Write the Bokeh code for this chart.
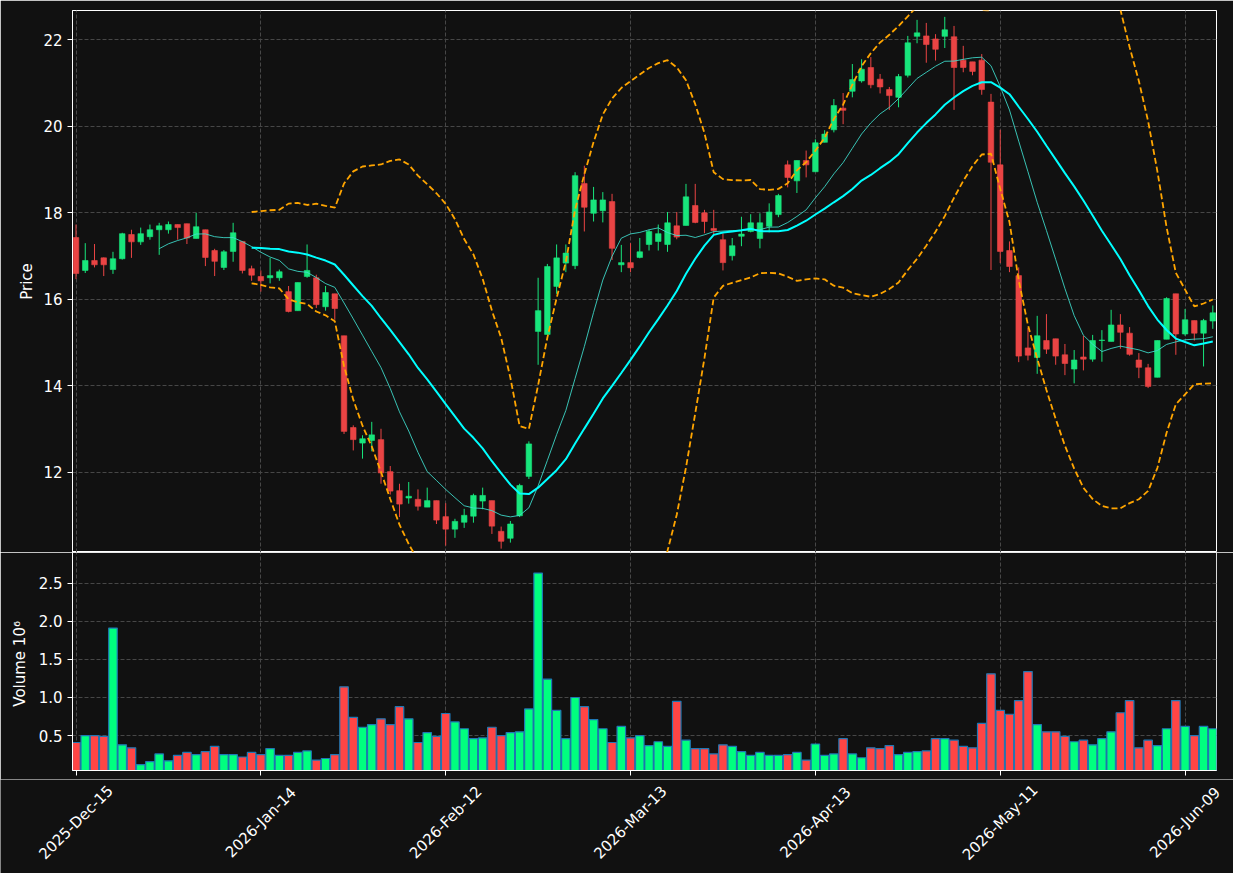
import math
import numpy as np
import pandas as pd
from bokeh.plotting import figure
from bokeh.models import Range1d, FixedTicker, ColumnDataSource, NumeralTickFormatter
from bokeh.core.properties import value
from bokeh.embed import file_html
from bokeh.resources import INLINE

# ---- data ----
opens = [17.43, 16.67, 16.90, 16.96, 16.69, 16.94, 17.50, 17.33, 17.45, 17.61,
         17.61, 17.73, 17.75, 17.41, 17.61, 17.13, 16.74, 17.11, 17.34, 16.71,
         16.53, 16.50, 16.50, 16.18, 15.74, 16.53, 16.50, 15.83, 16.13, 15.16,
         13.04, 12.68, 12.74, 12.76, 12.02, 11.58, 11.41, 11.38, 11.20, 11.35,
         10.98, 10.69, 10.85, 10.99, 11.34, 11.35, 10.64, 10.48, 11.00, 11.91,
         15.26, 15.19, 16.30, 16.84, 16.78, 18.68, 17.99, 18.05, 18.26, 16.80,
         16.85, 16.97, 17.27, 17.34, 17.27, 17.70, 17.71, 18.17, 18.00, 17.64,
         17.38, 17.01, 17.46, 17.57, 17.41, 17.69, 17.96, 19.11, 18.74, 19.21,
         18.95, 19.63, 19.92, 20.42, 20.81, 21.05, 21.36, 21.09, 20.85, 20.67,
         21.18, 22.08, 22.09, 22.02, 22.08, 22.07, 21.53, 21.49, 21.53, 20.56,
         19.11, 17.13, 16.55, 14.88, 14.66, 15.05, 15.09, 14.72, 14.39, 14.67,
         14.62, 15.05, 15.03, 15.41, 15.22, 14.60, 14.42, 14.20, 15.08, 16.13,
         15.20, 15.51, 15.22, 15.50]
highs = [17.73, 17.30, 17.28, 16.97, 17.10, 17.54, 17.61, 17.66, 17.73, 17.77,
         17.80, 17.73, 17.75, 18.00, 17.61, 17.17, 17.14, 17.77, 17.34, 16.78,
         16.67, 16.96, 16.69, 16.31, 16.39, 17.27, 16.57, 16.31, 16.13, 15.16,
         13.09, 12.86, 13.17, 13.01, 12.15, 11.74, 11.78, 11.61, 11.65, 11.35,
         11.29, 10.93, 11.16, 11.51, 11.65, 11.35, 10.75, 10.88, 11.74, 12.72,
         16.50, 16.82, 17.27, 17.27, 18.94, 19.09, 18.60, 18.48, 18.44, 17.26,
         17.30, 17.42, 17.61, 17.73, 18.02, 18.02, 18.67, 18.67, 18.07, 18.07,
         17.53, 17.42, 17.91, 17.97, 17.99, 18.22, 18.44, 19.21, 19.21, 19.44,
         19.70, 19.91, 20.63, 20.77, 21.44, 21.55, 21.60, 21.21, 20.91, 21.21,
         22.09, 22.46, 22.39, 22.13, 22.53, 22.32, 21.86, 21.49, 21.67, 20.75,
         19.92, 17.34, 16.74, 15.34, 15.62, 15.66, 15.09, 14.97, 14.83, 15.16,
         15.18, 15.29, 15.76, 15.66, 15.36, 14.76, 14.51, 15.05, 16.05, 16.13,
         15.78, 15.51, 15.55, 15.86]
lows = [16.47, 16.61, 16.74, 16.54, 16.59, 16.92, 16.96, 17.26, 17.38, 17.03,
        17.52, 17.38, 17.28, 17.41, 16.77, 16.54, 16.68, 16.87, 16.60, 16.43,
        16.18, 16.37, 16.43, 15.70, 15.74, 16.50, 15.80, 15.74, 15.53, 12.89,
        12.51, 12.32, 12.49, 11.74, 11.49, 10.97, 11.28, 11.12, 11.20, 10.81,
        10.31, 10.49, 10.72, 10.84, 11.15, 10.58, 10.24, 10.38, 10.97, 11.85,
        14.49, 15.19, 16.13, 16.63, 16.70, 17.57, 17.80, 17.78, 16.91, 16.63,
        16.63, 16.95, 17.13, 17.13, 17.10, 17.39, 17.71, 17.76, 17.53, 17.51,
        16.67, 16.90, 17.23, 17.55, 17.18, 17.55, 17.90, 18.59, 18.46, 18.82,
        18.95, 19.63, 19.86, 20.05, 20.67, 21.01, 20.88, 20.76, 20.38, 20.44,
        21.13, 21.92, 21.47, 21.52, 21.81, 20.38, 21.25, 21.18, 20.73, 16.68,
        16.84, 16.63, 14.55, 14.59, 14.28, 14.74, 14.49, 14.25, 14.06, 14.36,
        14.56, 14.56, 15.03, 14.86, 14.70, 14.18, 13.95, 14.20, 15.08, 14.72,
        15.16, 15.05, 14.45, 15.32]
closes = [16.60, 16.90, 16.80, 16.80, 16.94, 17.52, 17.33, 17.52, 17.61, 17.70,
          17.73, 17.66, 17.42, 17.68, 16.97, 16.88, 17.10, 17.54, 16.67, 16.56,
          16.43, 16.55, 16.64, 15.72, 16.39, 16.67, 15.88, 16.16, 15.79, 12.95,
          12.76, 12.78, 12.87, 11.99, 11.57, 11.27, 11.45, 11.22, 11.35, 10.90,
          10.69, 10.87, 11.01, 11.47, 11.47, 10.76, 10.41, 10.81, 11.70, 12.66,
          15.74, 16.76, 16.96, 17.07, 18.86, 18.13, 18.30, 18.30, 17.18, 16.85,
          16.73, 17.10, 17.57, 17.52, 17.77, 17.44, 18.37, 17.78, 17.80, 17.59,
          16.85, 17.24, 17.51, 17.77, 17.77, 18.02, 18.40, 18.82, 19.21, 19.11,
          19.62, 19.82, 20.48, 20.37, 21.08, 21.32, 20.96, 20.91, 20.71, 21.15,
          21.93, 22.16, 21.89, 21.78, 22.23, 21.36, 21.36, 21.27, 20.85, 19.17,
          17.11, 16.76, 14.69, 14.71, 15.16, 14.85, 14.69, 14.52, 14.60, 14.62,
          15.05, 15.06, 15.41, 15.24, 14.73, 14.43, 13.99, 15.05, 16.02, 15.20,
          15.53, 15.22, 15.51, 15.69]
volume_m = [0.41, 0.50, 0.50, 0.49, 1.91, 0.38, 0.34, 0.12, 0.16, 0.26,
            0.17, 0.24, 0.28, 0.25, 0.29, 0.36, 0.25, 0.25, 0.22, 0.28,
            0.25, 0.33, 0.24, 0.24, 0.28, 0.30, 0.18, 0.20, 0.25, 1.14,
            0.74, 0.61, 0.645, 0.72, 0.645, 0.88, 0.72, 0.41, 0.54, 0.49,
            0.79, 0.68, 0.59, 0.46, 0.47, 0.61, 0.50, 0.54, 0.55, 0.85,
            2.63, 1.24, 0.83, 0.46, 1.00, 0.88, 0.71, 0.59, 0.41, 0.62,
            0.47, 0.50, 0.37, 0.42, 0.36, 0.95, 0.44, 0.33, 0.33, 0.26,
            0.38, 0.36, 0.29, 0.24, 0.28, 0.24, 0.24, 0.25, 0.28, 0.18,
            0.39, 0.24, 0.26, 0.46, 0.26, 0.21, 0.34, 0.33, 0.37, 0.25,
            0.28, 0.29, 0.30, 0.46, 0.46, 0.44, 0.36, 0.34, 0.66, 1.31,
            0.83, 0.78, 0.96, 1.34, 0.645, 0.55, 0.55, 0.49, 0.42, 0.44,
            0.38, 0.46, 0.55, 0.80, 0.96, 0.34, 0.44, 0.37, 0.59, 0.96,
            0.62, 0.50, 0.62, 0.59]
tick_positions = [0, 20, 40, 60, 80, 100, 120]
tick_labels = ["2025-Dec-15", "2026-Jan-14", "2026-Feb-12", "2026-Mar-13",
               "2026-Apr-13", "2026-May-11", "2026-Jun-09"]
price_ticks = [12, 14, 16, 18, 20, 22]
volume_ticks = [0.5, 1.0, 1.5, 2.0, 2.5]

# ---- indicators derived from the closes ----
n = len(closes)
idx = list(range(n))
cs = pd.Series(closes)
sma10 = cs.rolling(10).mean()
sma20 = cs.rolling(20).mean()
std20 = cs.rolling(20).std()
upper = sma20 + 2 * std20
lower = sma20 - 2 * std20

BG = "#111111"
UP_C, DN_C = "#18e67c", "#ea4444"
UP_V, DN_V = "#00ff7f", "#ff4545"
GRID = "#474747"
FONT = "DejaVu Sans"

# layout (pixels)
W = 1233
LEFT, RIGHT = 72, 17
PRICE_TOP, PRICE_H = 10, 542
VOL_H, VOL_BOTTOM = 218, 9
LABEL_H = 873 - (PRICE_TOP + PRICE_H) - (VOL_H + VOL_BOTTOM)
LABEL_CENTER_FROM_TOP = 43
X0, X1 = -0.38, 123.4

up = [c >= o for o, c in zip(opens, closes)]
src = ColumnDataSource(dict(
    x=idx, h=highs, l=lows,
    top=[max(o, c) for o, c in zip(opens, closes)],
    bottom=[min(o, c) for o, c in zip(opens, closes)],
    color=[UP_C if u else DN_C for u in up],
    vcolor=[UP_V if u else DN_V for u in up],
    vol=volume_m,
))
lsrc = ColumnDataSource(dict(x=idx, sma10=sma10.values, sma20=sma20.values,
                             upper=upper.values, lower=lower.values))

xr = Range1d(X0, X1)


def style(fig):
    fig.background_fill_color = BG
    fig.border_fill_color = BG
    fig.outline_line_color = "white"
    fig.outline_line_width = 1
    fig.grid.grid_line_color = GRID
    fig.grid.grid_line_dash = "4 2"
    fig.grid.grid_line_width = 1
    for ax in fig.axis:
        ax.axis_line_color = "white"
        ax.major_tick_line_color = "white"
        ax.minor_tick_line_color = None
        ax.major_tick_out = 5
        ax.major_tick_in = 0
        ax.major_label_text_color = "white"
        ax.major_label_text_font = FONT
        ax.major_label_text_font_size = "15px"
        ax.axis_label_text_color = "white"
        ax.axis_label_text_font = FONT
        ax.axis_label_text_font_size = "15px"
        ax.axis_label_text_font_style = "normal"


p = figure(width=W, height=PRICE_TOP + PRICE_H, x_range=xr, y_range=Range1d(10.151, 22.677),
           output_backend="svg", toolbar_location=None,
           min_border_left=LEFT, min_border_right=RIGHT, min_border_top=PRICE_TOP,
           min_border_bottom=0)
style(p)
p.xaxis.visible = False
p.xgrid.ticker = FixedTicker(ticks=tick_positions)
p.yaxis.ticker = FixedTicker(ticks=price_ticks)
p.yaxis.axis_label = "Price"
p.yaxis.axis_label_standoff = 4

p.segment(x0="x", y0="l", x1="x", y1="h", line_color="color", line_width=1, source=src)
p.vbar(x="x", width=0.6, top="top", bottom="bottom", fill_color="color",
       line_color="color", line_width=0.6, source=src)
p.line("x", "sma10", source=lsrc, line_color="#40e0d0", line_alpha=0.85, line_width=1)
p.line("x", "sma20", source=lsrc, line_color="#00ffff", line_width=2)
p.line("x", "upper", source=lsrc, line_color="#ffa500", line_width=1.8, line_dash="6 3")
p.line("x", "lower", source=lsrc, line_color="#ffa500", line_width=1.8, line_dash="6 3")

v = figure(width=W, height=VOL_H + VOL_BOTTOM, x_range=xr, y_range=Range1d(0.043, 2.90),
           output_backend="svg", toolbar_location=None,
           min_border_left=LEFT, min_border_right=RIGHT, min_border_top=0,
           min_border_bottom=VOL_BOTTOM)
style(v)
v.outline_line_width = 0.8
v.xaxis.ticker = FixedTicker(ticks=tick_positions)
v.xaxis.major_label_overrides = {pos: "" for pos in tick_positions}
v.xaxis.major_label_text_font_size = "0px"
v.xaxis.major_label_standoff = 0
v.yaxis.ticker = FixedTicker(ticks=volume_ticks)
v.yaxis.formatter = NumeralTickFormatter(format="0.0")
v.yaxis.axis_label = "Volume  10\u2076"
v.yaxis.axis_label_standoff = 7
v.vbar(x="x", width=0.92, top="vol", bottom=0, fill_color="vcolor",
       line_color="#1f77b4", line_width=1.2, source=src)

# strip holding the rotated date labels; its frame spans the full width,
# with an x range extended so that it maps exactly like the panels above
ppu = (W - LEFT - RIGHT) / (X1 - X0)
lf = figure(width=W, height=LABEL_H,
            x_range=Range1d(X0 - LEFT / ppu, X1 + RIGHT / ppu), y_range=Range1d(0, LABEL_H),
            output_backend="svg", toolbar_location=None,
            x_axis_location=None, y_axis_location=None,
            min_border_left=0, min_border_right=0, min_border_top=0, min_border_bottom=0)
lf.background_fill_color = BG
lf.border_fill_color = BG
lf.outline_line_color = None
lf.grid.visible = False
lab_src = ColumnDataSource(dict(x=tick_positions, text=tick_labels))
lf.text(x="x", y=LABEL_H - LABEL_CENTER_FROM_TOP, text="text", source=lab_src,
        angle=math.pi / 4, text_align="center", text_baseline="middle",
        text_color="white", text_font=value(FONT), text_font_size="15px")

# separate roots so the strip's frame is not aligned with the panels' frames
html = file_html([p, v, lf], INLINE)
html = html.replace("<body>", '<body style="margin:0; background-color:#111111;">', 1)
open("out.html", "w").write(html)
